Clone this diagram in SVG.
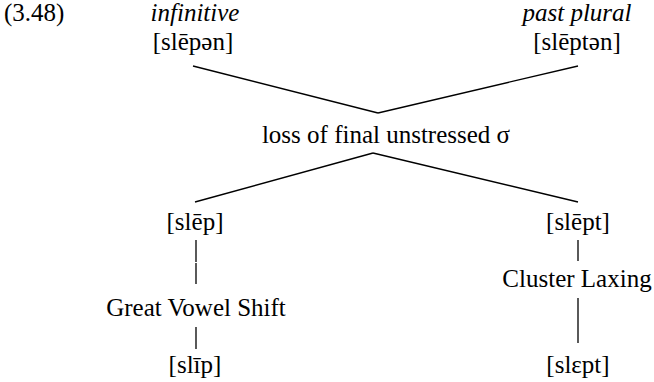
<svg xmlns="http://www.w3.org/2000/svg" width="654" height="382" viewBox="0 0 654 382">
  <style>
    .c { text-anchor: middle; }
    .it { font-style: italic; }
    .edge { stroke: #000; stroke-width: 1.3; fill: none; }
  </style>
  <rect width="654" height="382" fill="#fff"/>

  <g font-family="'Liberation Serif', 'DejaVu Serif', serif" font-size="25" fill="#000">
    <text x="4" y="21">(3.48)</text>

    <g id="connectors">
      <line class="edge" x1="193" y1="66" x2="378" y2="113"/>
      <line class="edge" x1="578" y1="66" x2="378" y2="113"/>
      <line class="edge" x1="373" y1="153" x2="195" y2="202"/>
      <line class="edge" x1="373" y1="153" x2="578" y2="202"/>
      <line class="edge" x1="196" y1="240" x2="196" y2="262"/>
      <line class="edge" x1="196" y1="263" x2="196" y2="284"/>
      <line class="edge" x1="196" y1="327" x2="196" y2="349"/>
      <line class="edge" x1="578" y1="240" x2="578" y2="261"/>
      <line class="edge" x1="578" y1="298" x2="578" y2="343"/>
    </g>

    <g id="infinitive">
      <text class="c it" x="195" y="21">infinitive</text>
      <text class="c" x="193" y="50">[slēpən]</text>
    </g>
    <g id="past-plural">
      <text class="c it" x="577" y="21">past plural</text>
      <text class="c" x="577" y="50">[slēptən]</text>
    </g>
    <g id="loss">
      <text class="c" x="386" y="143">loss of final unstressed σ</text>
    </g>
    <g id="slep">
      <text class="c" x="195" y="230">[slēp]</text>
    </g>
    <g id="gvs">
      <text class="c" x="196" y="316">Great Vowel Shift</text>
    </g>
    <g id="slip">
      <text class="c" x="195" y="373">[slīp]</text>
    </g>
    <g id="slept">
      <text class="c" x="578" y="230">[slēpt]</text>
    </g>
    <g id="cluster-laxing">
      <text class="c" x="577" y="287">Cluster Laxing</text>
    </g>
    <g id="slept-lax">
      <text class="c" x="578" y="373">[slɛpt]</text>
    </g>
  </g>
</svg>
